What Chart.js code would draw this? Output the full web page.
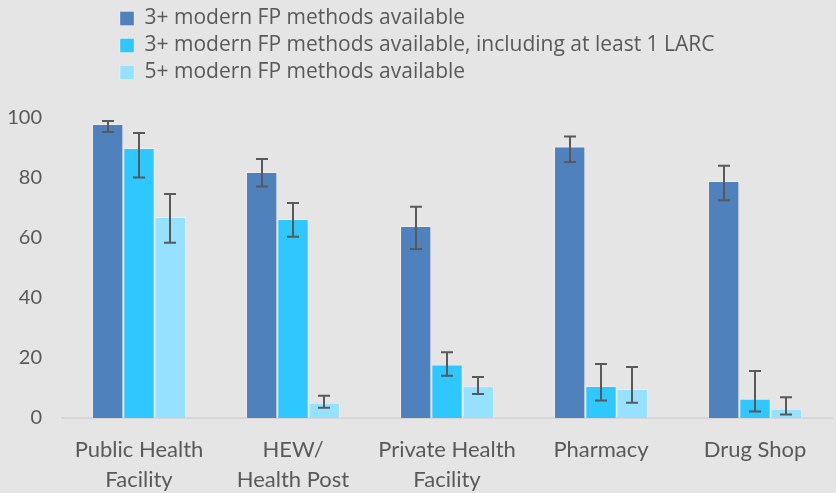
<!DOCTYPE html>
<html>
<head>
<meta charset="utf-8">
<script src="https://cdn.jsdelivr.net/npm/chart.js@4/dist/chart.umd.min.js"></script>
<style>
  html, body { margin: 0; padding: 0; background: #e5e5e5; }
  #wrap { width: 836px; height: 493px; }
</style>
</head>
<body>
<div id="wrap"><canvas id="fpChart"></canvas></div>
<script>
var categories = [['Public Health', 'Facility'], ['HEW/', 'Health Post'], ['Private Health', 'Facility'], 'Pharmacy', 'Drug Shop'];

var seriesNames = [
    '3+ modern FP methods available',
    '3+ modern FP methods available, including at least 1 LARC',
    '5+ modern FP methods available'
];

var methods3 = [98, 82, 64, 90.5, 79];
var methods3Low = [95.3, 77.2, 56.3, 85.3, 72.6];
var methods3High = [99, 86.3, 70.4, 93.8, 84.1];

var methods3Larc = [90, 66.3, 17.8, 10.7, 6.4];
var methods3LarcLow = [80.2, 60.4, 14.1, 5.8, 2.2];
var methods3LarcHigh = [95, 71.7, 21.9, 18, 15.7];

var methods5 = [67, 5.1, 10.6, 9.7, 3.1];
var methods5Low = [58.4, 3.4, 8, 5.1, 1.2];
var methods5High = [74.7, 7.4, 13.7, 17, 6.9];

var yTicks = [0, 20, 40, 60, 80, 100];

var colors = ['#4f81bd', '#2ec7ff', '#95e1ff'];
var textColor = '#595959';

// draws the confidence interval whiskers on top of every bar
var errorBars = {
    id: 'errorBars',
    afterDatasetsDraw: function (chart) {
        var ctx = chart.ctx;
        var y = chart.scales.y;
        ctx.save();
        ctx.strokeStyle = '#595959';
        ctx.lineWidth = 2;
        chart.data.datasets.forEach(function (ds, i) {
            var meta = chart.getDatasetMeta(i);
            meta.data.forEach(function (bar, j) {
                var top = y.getPixelForValue(ds.high[j]);
                var bottom = y.getPixelForValue(ds.low[j]);
                var x = Math.round(bar.x);
                ctx.beginPath();
                ctx.moveTo(x, top);
                ctx.lineTo(x, bottom);
                ctx.moveTo(x - 6, top);
                ctx.lineTo(x + 6, top);
                ctx.moveTo(x - 6, bottom);
                ctx.lineTo(x + 6, bottom);
                ctx.stroke();
            });
        });
        ctx.restore();
    }
};

// legend sits over the left part of the plot, stacked one item per row
var legendShift = {
    id: 'legendShift',
    afterLayout: function (chart) {
        chart.legend.left = 114;
        chart.legend.top = 2;
    }
};

var datasets = [
    { label: seriesNames[0], data: methods3, low: methods3Low, high: methods3High, backgroundColor: colors[0] },
    { label: seriesNames[1], data: methods3Larc, low: methods3LarcLow, high: methods3LarcHigh, backgroundColor: colors[1] },
    { label: seriesNames[2], data: methods5, low: methods5Low, high: methods5High, backgroundColor: colors[2] }
];

datasets.forEach(function (ds) {
    ds.borderColor = 'rgba(255,255,255,0.3)';
    ds.borderWidth = 1;
    ds.categoryPercentage = 0.61;
    ds.barPercentage = 1.0;
});

new Chart(document.getElementById('fpChart'), {
    type: 'bar',
    data: { labels: categories, datasets: datasets },
    options: {
        responsive: true,
        maintainAspectRatio: false,
        animation: false,
        layout: { padding: { top: 27, right: 4, left: 0, bottom: 0 } },
        plugins: {
            tooltip: { enabled: false },
            legend: {
                position: 'top',
                align: 'start',
                labels: {
                    boxWidth: 14,
                    boxHeight: 14,
                    padding: 6,
                    color: textColor,
                    font: { family: 'Open Sans', size: 21 }
                }
            }
        },
        scales: {
            x: {
                grid: { display: false, drawTicks: false },
                border: { display: true, color: '#d6d6d6', width: 2 },
                afterFit: function (scale) { scale.height = 75; },
                ticks: {
                    color: textColor,
                    padding: 17,
                    maxRotation: 0,
                    font: { family: 'Lato', size: 22, lineHeight: 1.36 }
                }
            },
            y: {
                min: 0,
                max: 100,
                grid: { display: false, drawTicks: false },
                border: { display: false },
                afterFit: function (scale) { scale.width = 62; },
                afterBuildTicks: function (scale) {
                    scale.ticks = yTicks.map(function (v) { return { value: v }; });
                },
                ticks: {
                    color: textColor,
                    padding: 20,
                    font: { family: 'Lato', size: 20 }
                }
            }
        }
    },
    plugins: [errorBars, legendShift]
});
</script>
</body>
</html>
